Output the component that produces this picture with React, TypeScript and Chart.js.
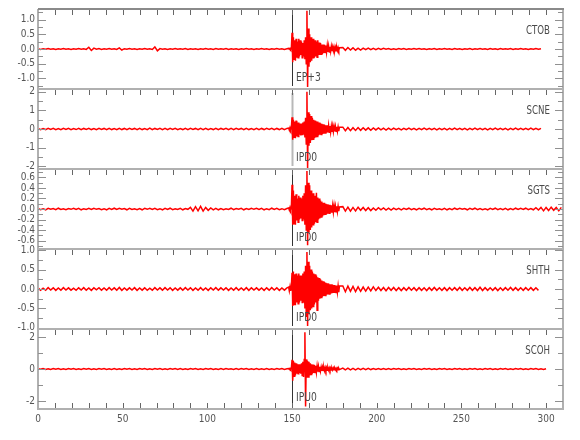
import React, { useEffect, useRef } from "react";
import { Chart, registerables } from "chart.js";

Chart.register(...registerables);

// ---- metadata ----
const stations = ["CTOB", "SCNE", "SGTS", "SHTH", "SCOH"];
const pickLabels = ["EP+3", "IPD0", "IPD0", "IPD0", "IPU0"];
const pickTime = 150;
const yLimits = [1.36, 2.15, 0.76, 1.03, 2.5];
const yMajor = [0.5, 1, 0.2, 0.5, 2];
const yMinor = [0.25, 0.5, 0.1, 0.25, 1];
const yDecimals = [1, 0, 1, 1, 0];
const xMin = 0;
const xMax = 310;
const xLabelStep = 50;
const xMinorStep = 10;

// sampling of the read-off values (seconds)
const preStart = 0;
const preStep = 1.5;
const eventStart = 148;
const eventStep = 0.4;
const tailStart = 180;
const tailStep = 1.5;

// ---- CTOB ----
const ctobPre = [
  0.01, -0.015, 0.005, -0.01, 0.015, -0.005, 0.01, -0.015, 0.01, -0.005,
  0.015, -0.01, 0.005, -0.015, 0.01, -0.01, 0.015, -0.005, 0.01, -0.015,
  0.06, -0.05, 0.03, -0.01, 0.015, -0.015, 0.01, -0.005, 0.015, -0.01,
  0.01, -0.015, 0.04, -0.035, 0.01, -0.01, 0.015, -0.005, 0.01, -0.015,
  0.005, -0.01, 0.015, -0.01, 0.01, -0.015, 0.07, -0.06, 0.015, -0.01,
  0.01, -0.015, 0.005, -0.01, 0.015, -0.01, 0.01, -0.005, 0.015, -0.015,
  0.01, -0.01, 0.005, -0.015, 0.01, -0.01, 0.015, -0.005, 0.01, -0.015,
  0.015, -0.01, 0.01, -0.005, 0.015, -0.015, 0.01, -0.01, 0.005, -0.015,
  0.01, -0.01, 0.015, -0.005, 0.01, -0.015, 0.01, -0.01, 0.015, -0.005,
  0.01, -0.015, 0.01, -0.01, 0.015, -0.005, 0.01, -0.015, 0.01,
];
const ctobEvent = [
  0.02, -0.01, 0.02, -0.02, 0.01, 0.55, -0.45, 0.4, -0.35, 0.3,
  -0.4, 0.35, -0.3, 0.25, -0.3, 0.35, -0.25, 0.3, -0.2, 0.25,
  -0.3, 0.2, -0.25, 0.3, -0.35, 0.4, -0.5, 1.3, -1.29, 0.7,
  -0.6, 0.5, -0.45, 0.4, -0.4, 0.35, -0.3, 0.35, -0.3, 0.3,
  -0.25, 0.25, -0.28, 0.3, -0.2, 0.22, -0.2, 0.2, -0.18, 0.15,
  -0.17, 0.15, -0.13, 0.14, -0.12, 0.12, -0.1, 0.12, -0.1, 0.09,
  -0.1, 0.08, -0.08, 0.09, -0.07, 0.07, -0.06, 0.07, -0.06, 0.05,
  -0.06, 0.05, -0.05, 0.05, -0.04, 0.04,
];
const ctobTail = [
  0.05, -0.045, 0.05, -0.035, 0.04, -0.04, 0.03, -0.035, 0.03, -0.025,
  0.03, -0.025, 0.02, -0.025, 0.02, -0.015, 0.02, -0.01, 0.015, -0.015,
  0.01, -0.015, 0.015, -0.01, 0.015, -0.015, 0.01, -0.01, 0.015, -0.01,
  0.015, -0.01, 0.01, -0.015, 0.01, -0.01, 0.015, -0.015, 0.01, -0.01,
  0.015, -0.01, 0.01, -0.015, 0.015, -0.01, 0.01, -0.015, 0.01, -0.01,
  0.015, -0.015, 0.01, -0.01, 0.015, -0.01, 0.01, -0.015, 0.015, -0.01,
  0.01, -0.015, 0.015, -0.01, 0.01, -0.01, 0.015, -0.015, 0.01, -0.01,
  0.015, -0.01, 0.01, -0.015, 0.01, -0.01, 0.015, -0.01, 0.01,
];

// ---- SCNE ----
const scnePre = [
  0.03, -0.04, 0.02, -0.03, 0.04, -0.025, 0.035, -0.035, 0.025, -0.04,
  0.035, -0.025, 0.04, -0.035, 0.02, -0.03, 0.035, -0.04, 0.03, -0.025,
  0.04, -0.03, 0.025, -0.04, 0.035, -0.025, 0.03, -0.035, 0.04, -0.03,
  0.025, -0.035, 0.04, -0.03, 0.03, -0.04, 0.035, -0.025, 0.03, -0.035,
  0.04, -0.03, 0.025, -0.035, 0.045, -0.04, 0.03, -0.025, 0.035, -0.035,
  0.03, -0.04, 0.035, -0.025, 0.04, -0.035, 0.025, -0.03, 0.04, -0.03,
  0.035, -0.025, 0.03, -0.04, 0.035, -0.03, 0.04, -0.035, 0.025, -0.03,
  0.04, -0.035, 0.03, -0.025, 0.035, -0.04, 0.03, -0.035, 0.04, -0.025,
  0.03, -0.035, 0.04, -0.03, 0.025, -0.035, 0.035, -0.04, 0.03, -0.03,
  0.035, -0.025, 0.04, -0.035, 0.03, -0.03, 0.035, -0.04, 0.03,
];
const scneEvent = [
  0.05, -0.06, 0.07, -0.05, 0.06, 0.63, -0.58, 0.5, -0.45, 0.4,
  -0.5, 0.45, -0.4, 0.35, -0.4, 0.35, -0.3, 0.3, -0.35, 0.3,
  -0.3, 0.35, -0.3, 0.4, -0.45, 0.6, -0.8, 2.0, -2.12, 0.9,
  -0.9, 0.8, -0.75, 0.7, -0.6, 0.6, -0.55, 0.5, -0.5, 0.45,
  -0.45, 0.4, -0.4, 0.4, -0.35, 0.35, -0.3, 0.3, -0.3, 0.28,
  -0.26, 0.25, -0.25, 0.22, -0.22, 0.2, -0.2, 0.2, -0.18, 0.18,
  -0.17, 0.16, -0.16, 0.15, -0.15, 0.15, -0.14, 0.14, -0.13, 0.13,
  -0.12, 0.12, -0.12, 0.11, -0.11, 0.1,
];
const scneTail = [
  0.1, -0.09, 0.08, -0.09, 0.07, -0.08, 0.08, -0.07, 0.07, -0.06,
  0.06, -0.07, 0.06, -0.05, 0.06, -0.05, 0.045, -0.055, 0.05, -0.045,
  0.05, -0.04, 0.035, -0.045, 0.04, -0.04, 0.045, -0.035, 0.04, -0.045,
  0.035, -0.04, 0.045, -0.035, 0.04, -0.04, 0.035, -0.045, 0.04, -0.035,
  0.04, -0.045, 0.035, -0.04, 0.045, -0.035, 0.04, -0.04, 0.035, -0.045,
  0.04, -0.035, 0.045, -0.04, 0.035, -0.04, 0.04, -0.045, 0.035, -0.04,
  0.045, -0.035, 0.04, -0.04, 0.035, -0.045, 0.04, -0.035, 0.045, -0.04,
  0.035, -0.04, 0.04, -0.035, 0.045, -0.04, 0.035, -0.04, 0.035,
];

// ---- SGTS ----
const sgtsPre = [
  0.01, -0.012, 0.006, -0.015, 0.012, -0.006, 0.01, -0.012, 0.015, -0.01,
  0.006, -0.012, 0.01, -0.006, 0.015, -0.01, 0.012, -0.015, 0.006, -0.01,
  0.012, -0.01, 0.015, -0.006, 0.01, -0.012, 0.006, -0.015, 0.012, -0.01,
  0.015, -0.01, 0.012, -0.006, 0.01, -0.015, 0.012, -0.01, 0.006, -0.012,
  0.01, -0.015, 0.012, -0.006, 0.015, -0.01, 0.012, -0.012, 0.006, -0.015,
  0.012, -0.01, 0.015, -0.012, 0.006, -0.01, 0.012, -0.015, 0.01, -0.006,
  0.03, -0.04, 0.045, -0.035, 0.05, -0.04, 0.03, -0.025, 0.02, -0.015,
  0.012, -0.015, 0.01, -0.012, 0.006, -0.01, 0.015, -0.012, 0.01, -0.006,
  0.012, -0.015, 0.01, -0.01, 0.015, -0.006, 0.012, -0.01, 0.012, -0.015,
  0.006, -0.012, 0.015, -0.01, 0.012, -0.012, 0.006, -0.015, 0.01,
];
const sgtsEvent = [
  0.02, -0.02, 0.03, -0.02, 0.02, 0.46, -0.3, 0.35, -0.28, 0.25,
  -0.3, 0.28, -0.22, 0.2, -0.25, 0.25, -0.2, 0.22, -0.18, 0.2,
  -0.22, 0.25, -0.2, 0.3, -0.3, 0.45, -0.4, 0.72, -0.69, 0.5,
  -0.45, 0.45, -0.4, 0.35, -0.35, 0.3, -0.3, 0.3, -0.28, 0.25,
  -0.25, 0.31, -0.25, 0.22, -0.2, 0.2, -0.18, 0.16, -0.15, 0.14,
  -0.14, 0.12, -0.12, 0.12, -0.1, 0.1, -0.1, 0.09, -0.09, 0.08,
  -0.08, 0.08, -0.07, 0.07, -0.07, 0.06, -0.06, 0.06, -0.06, 0.05,
  -0.05, 0.05, -0.05, 0.05, -0.04, 0.04,
];
const sgtsTail = [
  0.045, -0.04, 0.035, -0.04, 0.03, -0.035, 0.035, -0.025, 0.03, -0.03,
  0.025, -0.03, 0.02, -0.025, 0.025, -0.015, 0.02, -0.02, 0.015, -0.02,
  0.015, -0.012, 0.012, -0.015, 0.012, -0.01, 0.015, -0.012, 0.01, -0.015,
  0.012, -0.01, 0.015, -0.012, 0.01, -0.015, 0.012, -0.01, 0.006, -0.012,
  0.012, -0.015, 0.01, -0.012, 0.015, -0.01, 0.012, -0.006, 0.01, -0.015,
  0.012, -0.01, 0.015, -0.012, 0.01, -0.012, 0.006, -0.015, 0.012, -0.01,
  0.015, -0.012, 0.01, -0.012, 0.012, -0.015, 0.01, -0.012, 0.015, -0.01,
  0.012, -0.01, 0.015, -0.012, 0.01, -0.015, 0.025, -0.02, 0.03, -0.035,
  0.03, -0.03, 0.035, -0.025, 0.03, -0.035, 0.03,
];

// ---- SHTH ----
const shthPre = [
  0.03, -0.035, 0.02, -0.03, 0.035, -0.025, 0.03, -0.035, 0.025, -0.03,
  0.035, -0.025, 0.03, -0.03, 0.02, -0.035, 0.03, -0.025, 0.035, -0.03,
  0.025, -0.035, 0.03, -0.02, 0.035, -0.03, 0.025, -0.03, 0.035, -0.025,
  0.03, -0.03, 0.04, -0.035, 0.025, -0.03, 0.03, -0.025, 0.035, -0.035,
  0.025, -0.03, 0.03, -0.035, 0.02, -0.03, 0.035, -0.025, 0.03, -0.03,
  0.035, -0.025, 0.03, -0.035, 0.025, -0.03, 0.03, -0.03, 0.035, -0.025,
  0.03, -0.035, 0.025, -0.03, 0.035, -0.03, 0.025, -0.035, 0.03, -0.025,
  0.035, -0.03, 0.03, -0.025, 0.03, -0.035, 0.025, -0.03, 0.035, -0.03,
  0.025, -0.03, 0.035, -0.035, 0.03, -0.025, 0.03, -0.03, 0.025, -0.035,
  0.03, -0.03, 0.035, -0.025, 0.03, -0.035, 0.025, -0.03, 0.03,
];
const shthEvent = [
  0.05, -0.05, 0.06, -0.05, 0.05, 0.42, -0.44, 0.45, -0.4, 0.38,
  -0.42, 0.4, -0.35, 0.35, -0.38, 0.4, -0.35, 0.35, -0.3, 0.35,
  -0.35, 0.4, -0.35, 0.45, -0.5, 0.6, -0.7, 0.95, -0.95, 0.7,
  -0.65, 0.6, -0.55, 0.5, -0.5, 0.45, -0.45, 0.4, -0.4, 0.38,
  -0.35, 0.35, -0.55, 0.3, -0.3, 0.28, -0.25, 0.25, -0.22, 0.22,
  -0.2, 0.2, -0.18, 0.18, -0.17, 0.16, -0.15, 0.15, -0.14, 0.14,
  -0.13, 0.12, -0.12, 0.12, -0.11, 0.11, -0.1, 0.1, -0.1, 0.09,
  -0.09, 0.09, -0.08, 0.08, -0.08, 0.08,
];
const shthTail = [
  0.08, -0.07, 0.075, -0.06, 0.065, -0.065, 0.055, -0.06, 0.05, -0.055,
  0.05, -0.05, 0.055, -0.04, 0.045, -0.04, 0.04, -0.045, 0.04, -0.035,
  0.04, -0.04, 0.035, -0.04, 0.035, -0.035, 0.04, -0.03, 0.035, -0.04,
  0.035, -0.035, 0.03, -0.04, 0.035, -0.035, 0.04, -0.035, 0.03, -0.035,
  0.035, -0.04, 0.035, -0.03, 0.035, -0.035, 0.04, -0.035, 0.03, -0.035,
  0.04, -0.035, 0.035, -0.04, 0.045, -0.04, 0.035, -0.035, 0.03, -0.035,
  0.035, -0.04, 0.03, -0.035, 0.035, -0.03, 0.04, -0.035, 0.035, -0.035,
  0.03, -0.035, 0.035, -0.03, 0.035, -0.035, 0.03, -0.035,
];

// ---- SCOH ----
const scohPre = [
  0.025, -0.02, 0.03, -0.025, 0.02, -0.03, 0.025, -0.02, 0.025, -0.03,
  0.02, -0.025, 0.03, -0.02, 0.025, -0.025, 0.02, -0.03, 0.025, -0.02,
  0.03, -0.025, 0.02, -0.025, 0.025, -0.02, 0.03, -0.025, 0.02, -0.025,
  0.025, -0.03, 0.02, -0.025, 0.03, -0.02, 0.025, -0.025, 0.02, -0.03,
  0.025, -0.02, 0.025, -0.03, 0.02, -0.025, 0.03, -0.02, 0.025, -0.025,
  0.02, -0.03, 0.025, -0.02, 0.025, -0.025, 0.03, -0.025, 0.02, -0.025,
  0.03, -0.02, 0.025, -0.025, 0.02, -0.03, 0.025, -0.02, 0.03, -0.025,
  0.02, -0.025, 0.025, -0.03, 0.025, -0.02, 0.02, -0.025, 0.03, -0.025,
  0.025, -0.02, 0.03, -0.025, 0.02, -0.025, 0.025, -0.03, 0.02, -0.025,
  0.03, -0.025, 0.02, -0.025, 0.025, -0.02, 0.025, -0.025, 0.02,
];
const scohEvent = [
  0.03, -0.03, 0.04, -0.03, 0.03, 0.57, -0.74, 0.5, -0.45, 0.4,
  -0.4, 0.35, -0.3, 0.3, -0.3, 0.3, -0.25, 0.3, -0.3, 0.35,
  -0.4, 0.45, -0.5, 0.6, 2.3, -2.35, 0.6, -0.55, 0.5, -0.5,
  0.45, -0.4, 0.35, -0.35, 0.3, -0.3, 0.28, -0.25, 0.25, -0.22,
  0.2, -0.2, 0.18, -0.17, 0.15, -0.15, 0.14, -0.13, 0.12, -0.12,
  0.11, -0.1, 0.1, -0.1, 0.09, -0.09, 0.08, -0.08, 0.08, -0.07,
  0.07, -0.07, 0.07, -0.06, 0.06, -0.06, 0.06, -0.05, 0.05, -0.05,
  0.05, -0.05, 0.05, -0.04, 0.04, -0.04,
];
const scohTail = [
  0.06, -0.05, 0.05, -0.05, 0.04, -0.05, 0.04, -0.04, 0.045, -0.035,
  0.04, -0.035, 0.03, -0.035, 0.03, -0.03, 0.035, -0.03, 0.03, -0.025,
  0.025, -0.02, 0.025, -0.025, 0.02, -0.025, 0.025, -0.02, 0.025, -0.025,
  0.02, -0.025, 0.025, -0.02, 0.025, -0.025, 0.02, -0.025, 0.025, -0.02,
  0.025, -0.025, 0.02, -0.025, 0.025, -0.02, 0.025, -0.025, 0.02, -0.025,
  0.025, -0.02, 0.025, -0.025, 0.02, -0.025, 0.025, -0.02, 0.025, -0.025,
  0.02, -0.025, 0.025, -0.02, 0.025, -0.025, 0.02, -0.025, 0.025, -0.02,
  0.025, -0.025, 0.02, -0.025, 0.025, -0.02, 0.025, -0.025, 0.02, -0.025,
  0.02,
];

const traceParts = [
  [ctobPre, ctobEvent, ctobTail],
  [scnePre, scneEvent, scneTail],
  [sgtsPre, sgtsEvent, sgtsTail],
  [shthPre, shthEvent, shthTail],
  [scohPre, scohEvent, scohTail],
];

function buildTrace(pre: number[], ev: number[], tail: number[]) {
  const pts: { x: number; y: number }[] = [];
  pre.forEach((v, i) => pts.push({ x: preStart + i * preStep, y: v }));
  ev.forEach((v, i) => pts.push({ x: eventStart + i * eventStep, y: v }));
  tail.forEach((v, i) => pts.push({ x: tailStart + i * tailStep, y: v }));
  return pts;
}

const TICK_FONT = '"DejaVu Sans Condensed", "DejaVu Sans", sans-serif';
const TEXT_COLOR = "#555555";

const framePlugin = {
  id: "seisFrame",
  beforeDatasetsDraw(chart: any) {
    const ctx = chart.ctx;
    const xs = chart.scales.x;
    const px = Math.round(xs.getPixelForValue(pickTime)) + 0.5;
    ctx.save();
    stations.forEach((_, k) => {
      const ys = chart.scales["y" + k];
      ctx.beginPath();
      if (k === 1) {
        ctx.strokeStyle = "#b8b8b8";
        ctx.lineWidth = 2;
      } else {
        ctx.strokeStyle = "#333333";
        ctx.lineWidth = 1;
      }
      ctx.moveTo(px, ys.top + 4);
      ctx.lineTo(px, ys.bottom - 3);
      ctx.stroke();
    });
    ctx.restore();
  },
  afterDatasetsDraw(chart: any) {
    const ctx = chart.ctx;
    const xs = chart.scales.x;
    const { left, right, top, bottom } = chart.chartArea;
    ctx.save();
    ctx.strokeStyle = "#b0b0b0";
    ctx.lineWidth = 2;
    ctx.beginPath();
    ctx.moveTo(left, top);
    ctx.lineTo(left, bottom + 1);
    ctx.moveTo(right, top);
    ctx.lineTo(right, bottom + 1);
    ctx.stroke();

    stations.forEach((name, k) => {
      const ys = chart.scales["y" + k];
      const pt = ys.top;
      const pb = ys.bottom;
      ctx.strokeStyle = k === 0 ? "#8a8a8a" : "#b0b0b0";
      ctx.lineWidth = 2;
      ctx.beginPath();
      ctx.moveTo(left, pt);
      ctx.lineTo(right + 1, pt);
      ctx.stroke();
      ctx.strokeStyle = "#666666";
      ctx.lineWidth = 1;
      ctx.beginPath();
      for (let v = xMin; v <= xMax; v += xMinorStep) {
        const x = Math.round(xs.getPixelForValue(v)) + 0.5;
        if (x <= left + 1 || x >= right - 1) continue;
        ctx.moveTo(x, pt + 1);
        ctx.lineTo(x, pt + 6);
        if (k === stations.length - 1) {
          ctx.moveTo(x, pb - 1);
          ctx.lineTo(x, pb - 6);
        }
      }
      ctx.stroke();
      const lim = yLimits[k];
      const minor = yMinor[k];
      const major = yMajor[k];
      const nStart = Math.ceil((-lim - 1e-9) / minor);
      const nEnd = Math.floor((lim + 1e-9) / minor);
      ctx.strokeStyle = "#909090";
      ctx.beginPath();
      for (let n = nStart; n <= nEnd; n++) {
        const v = n * minor;
        const y = Math.round(ys.getPixelForValue(v)) + 0.5;
        const isMajor = Math.abs(v / major - Math.round(v / major)) < 1e-6;
        const len = isMajor ? 8 : 5;
        ctx.moveTo(left, y);
        ctx.lineTo(left + len, y);
        ctx.moveTo(right, y);
        ctx.lineTo(right - len, y);
      }
      ctx.stroke();
      ctx.fillStyle = "#4a4a4a";
      ctx.font = `12px ${TICK_FONT}`;
      ctx.textAlign = "right";
      ctx.textBaseline = "alphabetic";
      ctx.save();
      ctx.translate(right - 13, pt + 25);
      ctx.scale(0.8, 1);
      ctx.fillText(name, 0, 0);
      ctx.restore();
      const px = xs.getPixelForValue(pickTime);
      ctx.save();
      ctx.textAlign = "left";
      ctx.translate(px + 4, pb - 8);
      ctx.scale(0.85, 1);
      ctx.fillText(pickLabels[k], 0, 0);
      ctx.restore();
    });
    ctx.strokeStyle = "#b0b0b0";
    ctx.lineWidth = 2;
    ctx.beginPath();
    ctx.moveTo(left - 1, bottom);
    ctx.lineTo(right + 1, bottom);
    ctx.stroke();
    ctx.restore();
  },
};

export default function App() {
  const canvasRef = useRef<HTMLCanvasElement | null>(null);

  useEffect(() => {
    const canvas = canvasRef.current;
    if (!canvas) return;

    const scales: any = {
      x: {
        type: "linear",
        min: xMin,
        max: xMax,
        grid: { display: false, drawTicks: false },
        border: { display: false },
        ticks: {
          stepSize: xLabelStep,
          includeBounds: false,
          autoSkip: false,
          maxRotation: 0,
          padding: 4,
          color: TEXT_COLOR,
          font: { family: TICK_FONT, size: 10 },
          callback: (v: any) => String(v),
        },
        afterFit: (s: any) => {
          s.height = 31;
        },
      },
    };
    // stacked axes are laid out bottom-up in insertion order, so add the last station first
    for (let k = stations.length - 1; k >= 0; k--) {
      scales["y" + k] = {
        type: "linear",
        position: "left",
        stack: "traces",
        stackWeight: 1,
        min: -yLimits[k],
        max: yLimits[k],
        grid: { display: false, drawTicks: false },
        border: { display: false },
        ticks: {
          stepSize: yMajor[k],
          includeBounds: false,
          autoSkip: false,
          padding: 3,
          color: TEXT_COLOR,
          font: { family: TICK_FONT, size: 10 },
          callback: (v: any) => {
            const s = Number(v).toFixed(yDecimals[k]);
            return s === "-0.0" || s === "-0" ? s.slice(1) : s;
          },
        },
        afterFit: (s: any) => {
          s.width = 38;
        },
      };
    }

    const datasets = traceParts.map((parts, k) => ({
      label: stations[k],
      data: buildTrace(parts[0], parts[1], parts[2]),
      yAxisID: "y" + k,
      xAxisID: "x",
      borderColor: "rgb(255,0,0)",
      borderWidth: 1.5,
      pointRadius: 0,
      tension: 0,
      fill: false,
    }));

    const chart = new Chart(canvas, {
      type: "line",
      data: { datasets },
      options: {
        animation: false,
        responsive: false,
        maintainAspectRatio: false,
        events: [],
        parsing: false,
        normalized: true,
        layout: { padding: { left: 0, right: 17, top: 5, bottom: 0 } },
        plugins: {
          legend: { display: false },
          tooltip: { enabled: false },
        },
        scales,
      } as any,
      plugins: [framePlugin],
    });

    return () => {
      chart.destroy();
    };
  }, []);

  return (
    <div style={{ position: "absolute", left: 0, top: 0, width: 580, height: 440, background: "#ffffff" }}>
      <canvas ref={canvasRef} width={580} height={440} />
    </div>
  );
}
